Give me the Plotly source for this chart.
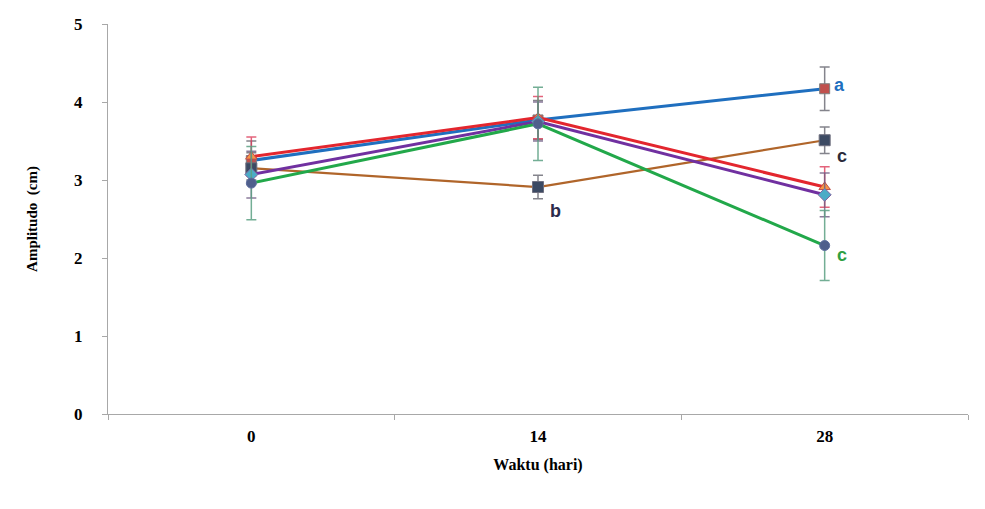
import plotly.graph_objects as go

days = ["0", "14", "28"]

blue_vals = [3.25, 3.77, 4.17]
blue_err = [0.25, 0.25, 0.28]
brown_vals = [3.15, 2.91, 3.51]
brown_err = [0.20, 0.15, 0.17]
red_vals = [3.30, 3.80, 2.91]
red_err = [0.25, 0.27, 0.26]
purple_vals = [3.07, 3.75, 2.81]
purple_err = [0.30, 0.25, 0.28]
green_vals = [2.96, 3.72, 2.16]
green_err = [0.47, 0.47, 0.45]

# significance letters: (day, value, letter, colour, xshift, yshift)
letters = [
    ("28", 4.17, "a", "#1F6FBF", 15, 4),
    ("28", 3.51, "c", "#2B2B3B", 17, -16),
    ("28", 2.16, "c", "#2EA043", 17, -9),
    ("14", 2.91, "b", "#2B2B4B", 17, -24),
]

series = [
    dict(name="S1", y=blue_vals, e=blue_err, line="#1F6FBF", width=3, mcol="#C0504D",
         mline="#7F7F7F", sym="square", size=10, ecol="rgba(110,110,120,0.85)"),
    dict(name="S2", y=brown_vals, e=brown_err, line="#B0652A", width=2.2, mcol="#3C4A63",
         mline="#6F6F7F", sym="square", size=11, ecol="rgba(110,110,120,0.85)"),
    dict(name="S3", y=red_vals, e=red_err, line="#E3262E", width=3, mcol="#F79646",
         mline="#C0504D", sym="triangle-up", size=10, ecol="rgba(220,60,90,0.8)"),
    dict(name="S4", y=purple_vals, e=purple_err, line="#7030A0", width=3, mcol="#4BACC6",
         mline="#8064A2", sym="diamond", size=10, ecol="rgba(110,90,130,0.8)"),
    dict(name="S5", y=green_vals, e=green_err, line="#22A84A", width=3, mcol="#4F5F8C",
         mline="#5F6F9F", sym="circle", size=10, ecol="rgba(90,160,130,0.85)"),
]

fig = go.Figure()
for s in series:
    fig.add_trace(go.Scatter(
        x=days, y=s["y"], name=s["name"], mode="lines+markers",
        line=dict(color=s["line"], width=s["width"]),
        marker=dict(symbol=s["sym"], size=s["size"], color=s["mcol"],
                    line=dict(color=s["mline"], width=1)),
        error_y=dict(type="data", array=s["e"], visible=True,
                     color=s["ecol"], thickness=1.5, width=5),
        showlegend=False,
    ))

for d, v, t, c, xs, ys in letters:
    fig.add_annotation(x=days.index(d), y=v, text="<b>" + t + "</b>",
                       showarrow=False, xshift=xs, yshift=ys,
                       font=dict(family="Liberation Sans", size=18, color=c))

serif = "Liberation Serif"
fig.update_layout(
    width=985, height=509,
    margin=dict(l=108, r=17, t=24, b=95),
    paper_bgcolor="white", plot_bgcolor="white",
    xaxis=dict(
        type="category", range=[-0.5, 2.5],
        showline=True, linecolor="#A8A8A8", linewidth=1.2,
        ticks="outside", tickson="boundaries", ticklen=5, tickcolor="#A8A8A8",
        showgrid=False, zeroline=False,
        tickfont=dict(family=serif, size=17, color="black"),
        tickprefix="<b>", ticksuffix="</b>",
        ticklabelstandoff=6,
        title=dict(text="<b>Waktu (hari)</b>", standoff=14,
                   font=dict(family=serif, size=16, color="black")),
    ),
    yaxis=dict(
        range=[0, 5], dtick=1,
        showline=True, linecolor="#A8A8A8", linewidth=1.2,
        ticks="outside", ticklen=5, tickcolor="#A8A8A8",
        showgrid=False, zeroline=False,
        tickfont=dict(family=serif, size=17, color="black"),
        tickprefix="<b>", ticksuffix="</b>",
        ticklabelstandoff=16,
        title=dict(text="<b>Amplitudo  (cm)</b>", standoff=32,
                   font=dict(family=serif, size=15, color="black")),
    ),
)

fig.write_html("out.html")
